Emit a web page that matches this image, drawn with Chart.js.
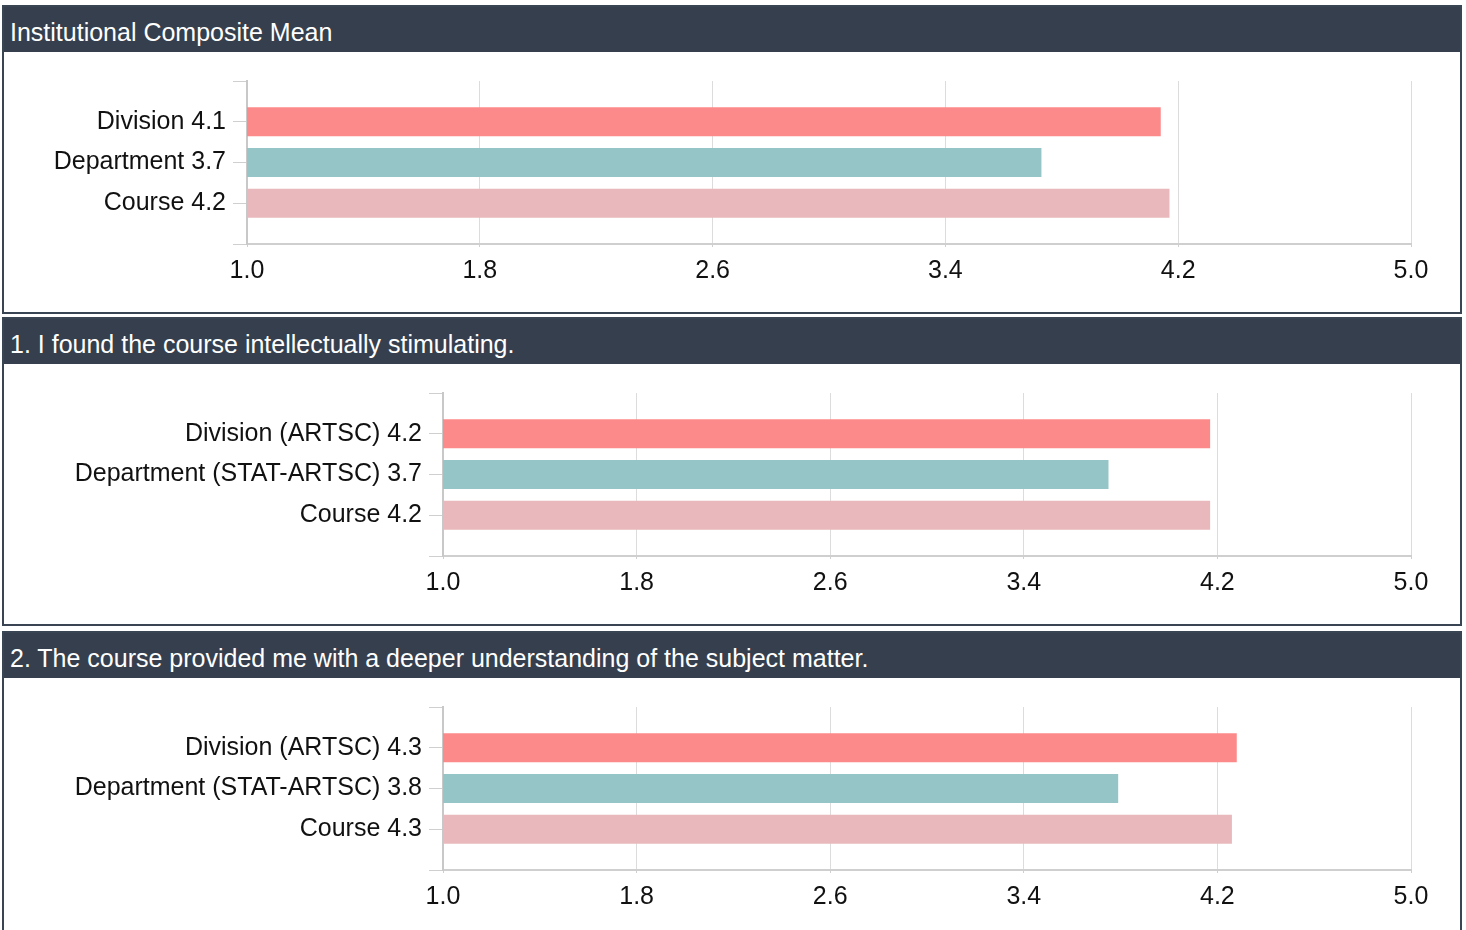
<!DOCTYPE html>
<html>
<head>
<meta charset="utf-8">
<script src="https://cdn.jsdelivr.net/npm/chart.js@4.4.0/dist/chart.umd.min.js"></script>
<style>
  body { margin: 0; background: #fff; font-family: "Liberation Sans", Arial, sans-serif; }
  .panel { position: absolute; left: 2px; width: 1456px; border: 2px solid #3a4553; background: #fff; }
  .head { height: 45px; line-height: 51px; background: #353f4e; color: #fff; font-size: 25px; padding-left: 6px; }
  canvas { display: block; }
</style>
</head>
<body>
<div class="panel" style="top:5px"><div class="head" id="t0"></div><canvas id="c0" width="1456" height="260"></canvas></div>
<div class="panel" style="top:317px"><div class="head" id="t1"></div><canvas id="c1" width="1456" height="260"></canvas></div>
<div class="panel" style="top:631px"><div class="head" id="t2"></div><canvas id="c2" width="1456" height="260"></canvas></div>
<script>
// panel titles
const titles = [
  "Institutional Composite Mean",
  "1. I found the course intellectually stimulating.",
  "2. The course provided me with a deeper understanding of the subject matter."
];

// categories + means
const compositeLabels = ["Division 4.1", "Department 3.7", "Course 4.2"];
const compositeValues = [4.14, 3.73, 4.17];

const q1Labels = ["Division (ARTSC) 4.2", "Department (STAT-ARTSC) 3.7", "Course 4.2"];
const q1Values = [4.17, 3.75, 4.17];

const q2Labels = ["Division (ARTSC) 4.3", "Department (STAT-ARTSC) 3.8", "Course 4.3"];
const q2Values = [4.28, 3.79, 4.26];

const xTicks = [1.0, 1.8, 2.6, 3.4, 4.2, 5.0];
const barColors = ["#fc8a8a", "#95c5c6", "#e9b8bc"];

const font = { family: "'Liberation Sans', Arial, sans-serif", size: 25 };

function drawPanel(idx, labels, values, axisWidth) {
  document.getElementById("t" + idx).textContent = titles[idx];
  // blank categories at both ends give the outer ticks and the spacing
  const cats = [""].concat(labels, [""]);
  const vals = [null].concat(values, [null]);
  const cols = ["#fff"].concat(barColors, ["#fff"]);

  new Chart(document.getElementById("c" + idx), {
    type: "bar",
    data: {
      labels: cats,
      datasets: [{ data: vals, backgroundColor: cols, barPercentage: 0.71, categoryPercentage: 1 }]
    },
    options: {
      indexAxis: "y",
      responsive: false,
      animation: false,
      layout: { padding: { top: 29, bottom: 17, right: 49, left: 0 } },
      plugins: { legend: { display: false }, tooltip: { enabled: false } },
      scales: {
        x: {
          min: 1, max: 5,
          afterBuildTicks: s => { s.ticks = xTicks.map(v => ({ value: v })); },
          grid: { color: "#dcdcdc", tickLength: 3, tickColor: "#cfcfcf" },
          border: { color: "#cfcfcf", width: 2 },
          ticks: { color: "#111", font: font, padding: 9, callback: v => v.toFixed(1), maxRotation: 0 }
        },
        y: {
          offset: false,
          afterFit: s => { s.width = axisWidth; },
          grid: { drawOnChartArea: false, offset: false, tickLength: 14, color: "#cfcfcf" },
          border: { color: "#c8c8c8", width: 2 },
          ticks: { color: "#111", font: font, padding: 7, autoSkip: false }
        }
      }
    }
  });
}

drawPanel(0, compositeLabels, compositeValues, 243);
drawPanel(1, q1Labels, q1Values, 439);
drawPanel(2, q2Labels, q2Values, 439);
</script>
</body>
</html>
